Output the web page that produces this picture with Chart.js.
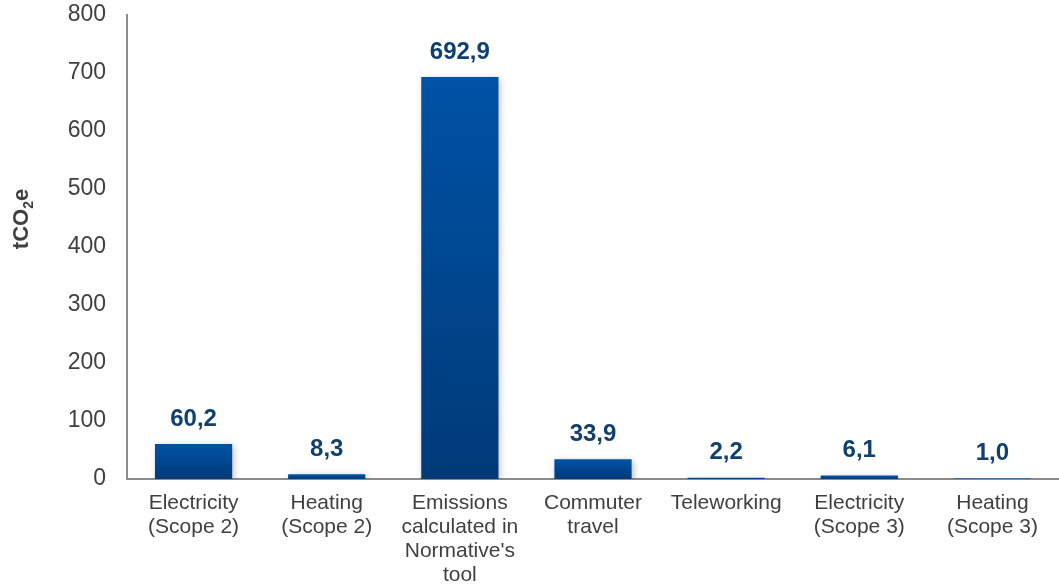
<!DOCTYPE html>
<html>
<head>
<meta charset="utf-8">
<script src="https://cdn.jsdelivr.net/npm/chart.js@4/dist/chart.umd.min.js"></script>
<style>
  html, body { margin: 0; padding: 0; background: #ffffff; }
  #wrap { width: 1059px; height: 587px; position: relative; }
</style>
</head>
<body>
<div id="wrap"><canvas id="c" width="1059" height="587"></canvas></div>
<script>
const categories = [
  ["Electricity", "(Scope 2)"],
  ["Heating", "(Scope 2)"],
  ["Emissions", "calculated in", "Normative's", "tool"],
  ["Commuter", "travel"],
  ["Teleworking"],
  ["Electricity", "(Scope 3)"],
  ["Heating", "(Scope 3)"]
];
const values = [60.2, 8.3, 692.9, 33.9, 2.2, 6.1, 1.0];
const yTicks = [0, 100, 200, 300, 400, 500, 600, 700, 800];
const yTitleParts = ["tCO", "2", "e"];

function fmt(v) { return v.toFixed(1).replace('.', ','); }
const FONT = '"Liberation Sans", Arial, sans-serif';

const barShadow = {
  id: 'barShadow',
  beforeDatasetDraw(chart) {
    const ctx = chart.ctx;
    ctx.save();
    ctx.shadowColor = 'rgba(0,0,0,0.28)';
    ctx.shadowBlur = 7;
    ctx.shadowOffsetX = 2;
    ctx.shadowOffsetY = 2;
  },
  afterDatasetDraw(chart) {
    chart.ctx.restore();
  }
};

const valueLabels = {
  id: 'valueLabels',
  afterDatasetsDraw(chart) {
    const ctx = chart.ctx;
    const meta = chart.getDatasetMeta(0);
    ctx.save();
    ctx.font = 'bold 24px ' + FONT;
    ctx.fillStyle = '#11406f';
    ctx.textAlign = 'center';
    ctx.textBaseline = 'middle';
    meta.data.forEach((bar, i) => {
      ctx.fillText(fmt(values[i]), bar.x, bar.y - 25);
    });
    ctx.restore();
  }
};

const yTitle = {
  id: 'yTitle',
  afterDraw(chart) {
    const ctx = chart.ctx;
    ctx.save();
    ctx.translate(28, 219);
    ctx.rotate(-Math.PI / 2);
    ctx.fillStyle = '#404040';
    ctx.textBaseline = 'alphabetic';
    const big = 'bold 22px ' + FONT;
    const small = 'bold 14px ' + FONT;
    ctx.font = big;
    const w0 = ctx.measureText(yTitleParts[0]).width;
    const w2 = ctx.measureText(yTitleParts[2]).width;
    ctx.font = small;
    const w1 = ctx.measureText(yTitleParts[1]).width;
    let x = -(w0 + w1 + w2) / 2;
    ctx.font = big;
    ctx.fillText(yTitleParts[0], x, 0);
    x += w0;
    ctx.font = small;
    ctx.fillText(yTitleParts[1], x, 5);
    x += w1;
    ctx.font = big;
    ctx.fillText(yTitleParts[2], x, 0);
    ctx.restore();
  }
};

new Chart(document.getElementById('c'), {
  type: 'bar',
  data: {
    labels: categories,
    datasets: [{
      data: values,
      backgroundColor(context) {
        const chart = context.chart;
        const area = chart.chartArea;
        if (!area || !chart.scales.y) return '#00479a';
        const yScale = chart.scales.y;
        const top = yScale.getPixelForValue(values[context.dataIndex]);
        const bottom = yScale.getPixelForValue(0);
        if (!isFinite(top) || !isFinite(bottom) || bottom - top < 1) return '#0050a4';
        const g = chart.ctx.createLinearGradient(0, top, 0, bottom);
        g.addColorStop(0, '#0052a6');
        g.addColorStop(1, '#003a78');
        return g;
      },
      borderWidth: 0,
      barPercentage: 0.58,
      categoryPercentage: 1.0
    }]
  },
  options: {
    responsive: false,
    animation: false,
    devicePixelRatio: 1,
    layout: { padding: { top: 15, right: 0, left: 0, bottom: 0 } },
    plugins: {
      legend: { display: false },
      tooltip: { enabled: false }
    },
    scales: {
      x: {
        grid: { display: false, drawTicks: false },
        border: { display: true, color: '#8c8c8c', width: 2 },
        ticks: {
          color: '#404040',
          font: { family: FONT, size: 21, lineHeight: 1.15 },
          padding: 12,
          maxRotation: 0,
          autoSkip: false
        },
        afterFit(scale) { scale.height = 108; scale.paddingLeft = 0; scale.paddingRight = 0; }
      },
      y: {
        min: 0,
        max: 800,
        afterBuildTicks(scale) { scale.ticks = yTicks.map(v => ({ value: v })); },
        grid: { display: false, drawTicks: false },
        border: { display: true, color: '#8c8c8c', width: 2 },
        ticks: {
          color: '#404040',
          font: { family: FONT, size: 23 },
          padding: 21
        },
        afterFit(scale) { scale.width = 127; scale.paddingTop = 0; scale.paddingBottom = 0; }
      }
    }
  },
  plugins: [barShadow, valueLabels, yTitle]
});
</script>
</body>
</html>
